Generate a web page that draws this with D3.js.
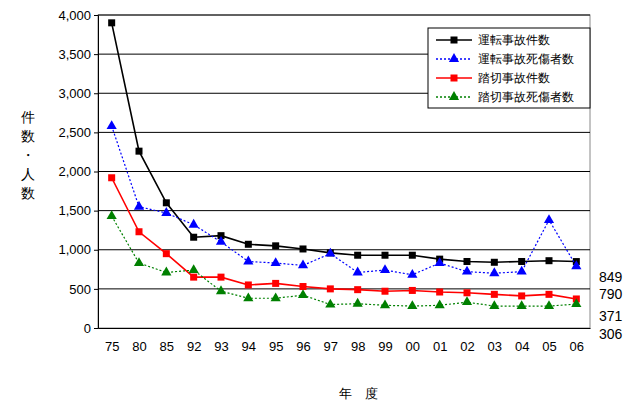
<!DOCTYPE html><html><head><meta charset="utf-8"><script src="https://cdn.jsdelivr.net/npm/d3@7"></script>
<style>body{margin:0;background:#fff}text{font-family:"Liberation Sans",Arial,sans-serif}</style></head><body>
<svg id="c" width="640" height="400"></svg>
<script>
const years=["75","80","85","92","93","94","95","96","97","98","99","00","01","02","03","04","05","06"];
const accidents=[3900,2260,1600,1160,1180,1070,1050,1010,960,930,930,930,880,850,840,850,860,849];
const casualties=[2580,1550,1470,1320,1100,850,830,800,950,710,740,680,830,720,700,720,1380,790];
const crossAcc=[1920,1230,950,650,650,550,570,530,500,490,470,480,460,450,430,410,430,371];
const crossCas=[1430,830,710,740,470,380,380,420,300,310,290,280,290,330,280,280,280,306];
const yTicks=[0,500,1000,1500,2000,2500,3000,3500,4000];
const names=["運転事故件数","運転事故死傷者数","踏切事故件数","踏切事故死傷者数"];
const svg=d3.select("#c");
const L=98,R=590,T=15,B=328;
const x=d3.scalePoint().domain(years).range([L,R]).padding(0.5);
const y=d3.scaleLinear().domain([0,4000]).range([B,T]);
svg.append("rect").attr("x",L).attr("y",T).attr("width",R-L).attr("height",B-T).attr("fill","#fff").attr("stroke","#888");
svg.selectAll(".g").data(yTicks.slice(1)).join("line").attr("x1",L).attr("x2",R).attr("y1",d=>y(d)).attr("y2",d=>y(d)).attr("stroke","#000").attr("stroke-width",1);
const ya=svg.append("g").attr("transform",`translate(${L},0)`).call(d3.axisLeft(y).tickValues(yTicks).tickFormat(d3.format(",")).tickSize(4));
const xa=svg.append("g").attr("transform",`translate(0,${B})`).call(d3.axisBottom(x).tickSize(0).tickPadding(14));
[ya,xa].forEach(a=>{a.selectAll("text").attr("font-size",13).attr("fill","#000");a.select(".domain").attr("stroke","#000");});
const series=[
 {v:accidents,c:"#000",dash:null,m:"sq",o:20},
 {v:casualties,c:"#0000ff",dash:"2,2",m:"tri",o:33},
 {v:crossAcc,c:"#ff0000",dash:null,m:"sq",o:22},
 {v:crossCas,c:"#008000",dash:"2,2",m:"tri",o:35}];
const line=d3.line().x((d,i)=>x(years[i])).y(d=>y(d));
const mk=(g,m,c,px,py)=>{if(m==="sq")g.append("rect").attr("x",px-3.5).attr("y",py-3.5).attr("width",7).attr("height",7).attr("fill",c);
 else g.append("path").attr("d",d3.symbol(d3.symbolTriangle,45)()).attr("transform",`translate(${px},${py})`).attr("fill",c);};
series.forEach(s=>{
 svg.append("path").attr("d",line(s.v)).attr("fill","none").attr("stroke",s.c).attr("stroke-width",s.dash?1.2:1.6).attr("stroke-dasharray",s.dash);
 const g=svg.append("g");s.v.forEach((d,i)=>mk(g,s.m,s.c,x(years[i]),y(d)));
 const last=s.v[s.v.length-1];
 svg.append("text").attr("x",599).attr("y",y(last)+s.o).attr("font-size",14).text(last);
});
svg.append("rect").attr("x",428).attr("y",28).attr("width",162).attr("height",80).attr("fill","#fff").attr("stroke","#000");
series.forEach((s,i)=>{const ly=40+i*19;
 svg.append("line").attr("x1",436).attr("x2",472).attr("y1",ly).attr("y2",ly).attr("stroke",s.c).attr("stroke-width",1.4).attr("stroke-dasharray",s.dash);
 const g=svg.append("g");mk(g,s.m,s.c,454,ly);
 svg.append("text").attr("x",478).attr("y",ly+4).attr("font-size",12).attr("font-family","Noto Sans CJK JP").text(names[i]);});
["件","数","・","人","数"].forEach((ch,i)=>svg.append("text").attr("x",28).attr("y",122+i*19).attr("text-anchor","middle").attr("font-size",14).attr("font-family","Noto Sans CJK JP").text(ch));
svg.append("text").attr("x",358).attr("y",398).attr("text-anchor","middle").attr("font-size",13).attr("font-family","Noto Sans CJK JP").text("年　度");
</script></body></html>
